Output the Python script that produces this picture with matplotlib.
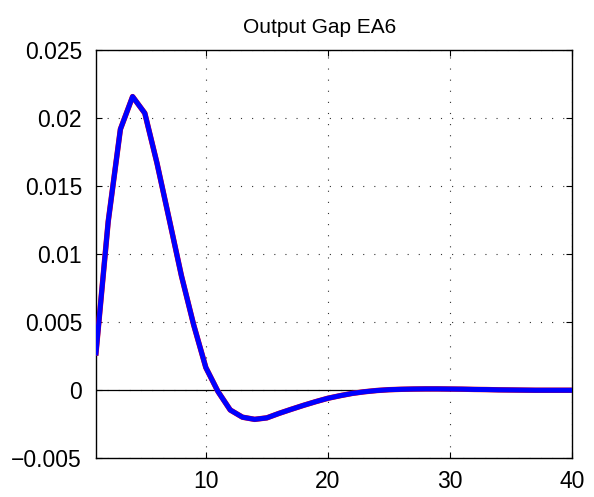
import numpy as np
import matplotlib.pyplot as plt

plt.rcParams['font.family'] = ['Liberation Sans', 'DejaVu Sans']

# impulse response of the output gap, quarters 1..40
periods = np.arange(1, 41)
output_gap = [
    0.00272, 0.01238, 0.01917, 0.02157, 0.02035, 0.01667, 0.01255, 0.00840,
    0.00480, 0.00165, -0.00012, -0.00147, -0.00200, -0.00216, -0.00205,
    -0.00172, -0.00142, -0.00113, -0.00086, -0.00061, -0.00042, -0.00025,
    -0.00013, -0.00004, 0.00002, 0.00005, 0.00007, 0.00008, 0.00008,
    0.00007, 0.00006, 0.00004, 0.00003, 0.00001, 0.00000, -0.00001,
    -0.00002, -0.00002, -0.00002, -0.00002,
]

yticks = [-0.005, 0, 0.005, 0.01, 0.015, 0.02, 0.025]
ytick_labels = ['\u22120.005', '0', '0.005', '0.01', '0.015', '0.02', '0.025']
xticks = [10, 20, 30, 40]

fig = plt.figure(figsize=(5.94, 4.97), dpi=100)
ax = fig.add_axes([0.1616, 0.0785, 0.8013, 0.821])

ax.axhline(0, color='black', linewidth=0.9, zorder=2)
ax.plot(periods, output_gap, color='red', linewidth=3.9, zorder=3)
ax.plot(periods, output_gap, color='blue', linewidth=3.6, zorder=4)

ax.set_xlim(1, 40)
ax.set_ylim(-0.005, 0.025)
ax.set_xticks(xticks)
ax.set_yticks(yticks)
ax.set_yticklabels(ytick_labels)

ax.grid(True, linestyle=(0, (1, 9)), color='#333333', linewidth=0.8)
ax.tick_params(direction='in', top=True, right=True, labelsize=16.5,
               length=4, width=0.8)
ax.tick_params(axis='x', pad=9)
ax.tick_params(axis='y', pad=10)
for spine in ax.spines.values():
    spine.set_linewidth(1.0)

ax.set_title('Output Gap EA6', fontsize=15, x=0.47, pad=12)

fig.savefig('out.png', dpi=100)
